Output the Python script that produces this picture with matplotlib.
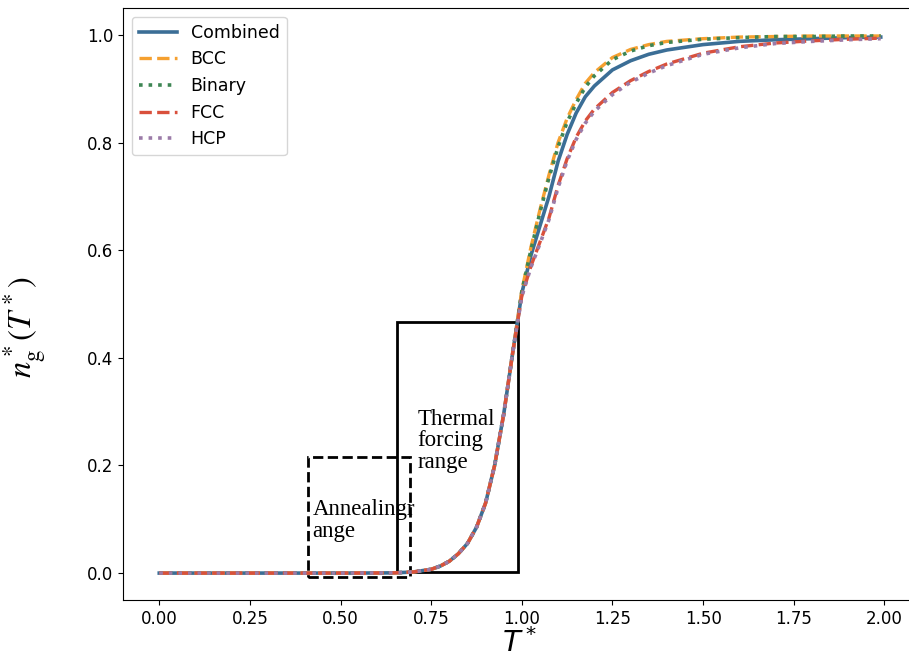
import matplotlib
matplotlib.use("Agg")
import matplotlib.pyplot as plt
from matplotlib.patches import Rectangle

# temperature points
T = [0.00, 0.10, 0.20, 0.30, 0.40, 0.50, 0.60, 0.65, 0.70, 0.75, 0.775,
     0.80, 0.825, 0.85, 0.875, 0.90, 0.925, 0.95, 0.975, 1.00, 1.025,
     1.05, 1.075, 1.10, 1.125, 1.15, 1.175, 1.20, 1.25, 1.30, 1.35,
     1.40, 1.50, 1.60, 1.70, 1.80, 1.90, 1.99]

# shared low part (all curves overlap below T*=1)
low = [0.0, 0.0, 0.0, 0.0, 0.0, 0.0, 0.0002, 0.0005, 0.002, 0.007, 0.013,
       0.022, 0.036, 0.055, 0.085, 0.13, 0.20, 0.295, 0.41]

combined = low + [0.52, 0.59, 0.645, 0.70, 0.765, 0.815, 0.855, 0.885,
                  0.905, 0.935, 0.952, 0.964, 0.972, 0.982, 0.988, 0.991,
                  0.993, 0.995, 0.996]
bcc = low + [0.525, 0.605, 0.675, 0.74, 0.80, 0.845, 0.88, 0.91, 0.93,
             0.958, 0.973, 0.982, 0.988, 0.993, 0.996, 0.997, 0.998,
             0.998, 0.998]
binary = low + [0.523, 0.60, 0.67, 0.735, 0.792, 0.838, 0.873, 0.903,
                0.924, 0.954, 0.970, 0.980, 0.986, 0.992, 0.995, 0.997,
                0.997, 0.998, 0.998]
fcc = low + [0.515, 0.57, 0.615, 0.66, 0.72, 0.77, 0.81, 0.84, 0.862,
             0.893, 0.915, 0.932, 0.946, 0.966, 0.978, 0.985, 0.989,
             0.992, 0.994]
hcp = low + [0.514, 0.568, 0.612, 0.657, 0.716, 0.766, 0.806, 0.836,
             0.858, 0.889, 0.912, 0.929, 0.943, 0.964, 0.976, 0.984,
             0.988, 0.991, 0.993]

fig = plt.figure(figsize=(9.09, 6.59), dpi=100)
ax = fig.add_axes([123 / 909, 59 / 659, (917 - 123) / 909, (600 - 8) / 659])
ax.spines["right"].set_visible(False)  # falls outside the cropped figure

ax.plot(T, combined, "-", color="#3b6e96", lw=2.6, label="Combined")
ax.plot(T, bcc, "--", color="#f5a030", lw=2.4, label="BCC")
ax.plot(T, binary, ":", color="#3e8654", lw=2.6, label="Binary")
ax.plot(T, fcc, "--", color="#d9503c", lw=2.4, label="FCC")
ax.plot(T, hcp, ":", color="#9b7ba8", lw=2.6, label="HCP")

# boxes marking the two ranges
ax.add_patch(Rectangle((0.657, 0.002), 0.332, 0.464, fill=False,
                       ec="black", lw=2))
ax.add_patch(Rectangle((0.409, -0.007), 0.282, 0.222, fill=False,
                       ec="black", lw=2, ls="--"))

ax.text(0.713, 0.195, "Thermal\nforcing\nrange", family="Liberation Serif",
        fontsize=16.5, va="baseline", linespacing=1.05)
ax.text(0.423, 0.067, "Annealingr\nange", family="Liberation Serif",
        fontsize=16.5, va="baseline", linespacing=1.05)

ax.set_xlim(-0.1, 2.09)
ax.set_ylim(-0.05, 1.05)
ax.set_xticks([0.0, 0.25, 0.5, 0.75, 1.0, 1.25, 1.5, 1.75, 2.0])
ax.set_yticks([0.0, 0.2, 0.4, 0.6, 0.8, 1.0])
ax.tick_params(labelsize=12)
ax.set_xlabel("$T^*$", fontsize=21, labelpad=0)
ax.set_ylabel(r"$n_{\rm g}^*(T^*)$", fontsize=23.5, math_fontfamily="stix")
ax.yaxis.set_label_coords(-0.0945, 0.460)

ax.legend(loc="upper left", fontsize=12.5, handlelength=2.2)

fig.savefig("out.png", dpi=100)
